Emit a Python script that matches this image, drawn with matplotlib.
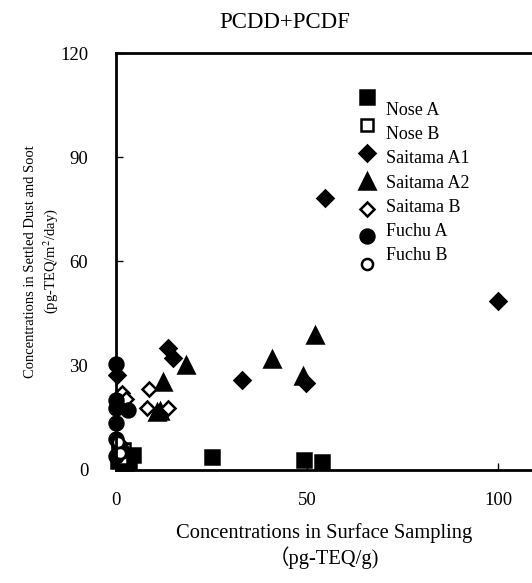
import matplotlib
matplotlib.use("Agg")
import matplotlib.pyplot as plt

plt.rcParams['font.family'] = ['Liberation Serif', 'Noto Sans CJK JP', 'DejaVu Sans']
plt.rcParams['mathtext.fontset'] = 'stix'

# surface sampling (pg-TEQ/g) vs settled dust and soot (pg-TEQ/m2/day)
nose_a_x = [0.5, 1.5, 2.5, 4.4, 3.5, 25.0, 49.1, 54.0]
nose_a_y = [2.5, 3.2, 2.0, 4.2, 2.5, 3.7, 2.9, 2.4]
nose_b_x = [0.5, 1.2, 2.0]
nose_b_y = [5.0, 3.5, 6.0]
saitama_a1_x = [0.3, 13.5, 14.9, 33.0, 49.8, 54.7, 100.0]
saitama_a1_y = [27.3, 35.1, 32.2, 25.9, 24.9, 78.3, 48.7]
saitama_a2_x = [10.8, 11.6, 12.3, 18.4, 40.9, 48.8, 52.0]
saitama_a2_y = [16.8, 17.0, 25.4, 30.2, 31.9, 26.9, 38.8]
saitama_b_x = [1.5, 2.5, 8.6, 8.0, 13.6, 1.0]
saitama_b_y = [22.0, 20.5, 23.3, 17.8, 17.8, 7.5]
fuchu_a_x = [0, 0, 0, 3.1, 0, 0, 0.8, 0, 1.5]
fuchu_a_y = [30.5, 20.0, 17.8, 17.3, 13.5, 9.0, 7.0, 4.0, 5.5]
fuchu_b_x = [0.5, 1.0]
fuchu_b_y = [8.0, 5.0]

series = [
    ("Nose A", nose_a_x, nose_a_y, "s", True, 10),
    ("Nose B", nose_b_x, nose_b_y, "s", False, 9),
    ("Saitama A1", saitama_a1_x, saitama_a1_y, "D", True, 8),
    ("Saitama A2", saitama_a2_x, saitama_a2_y, "^", True, 11),
    ("Saitama B", saitama_b_x, saitama_b_y, "D", False, 7),
    ("Fuchu A", fuchu_a_x, fuchu_a_y, "o", True, 10),
    ("Fuchu B", fuchu_b_x, fuchu_b_y, "o", False, 8),
]

fig = plt.figure(figsize=(5.32, 5.83), dpi=100)
ax = fig.add_axes([0.218, 0.194, 0.782, 0.715])

for name, xs, ys, mk, filled, ms in series:
    ax.plot(xs, ys, linestyle='none', marker=mk, markersize=ms,
            markerfacecolor='black' if filled else 'white',
            markeredgecolor='black', markeredgewidth=1.8, clip_on=False)

# hand-made legend (markers sit slightly offset from the labels, as in the original)
for i, (name, xs, ys, mk, filled, ms) in enumerate(series):
    ax.plot(0.603, 0.894 - i * 0.0668, transform=ax.transAxes, marker=mk,
            markersize=ms, markerfacecolor='black' if filled else 'white',
            markeredgecolor='black', markeredgewidth=1.8, clip_on=False)
    ax.text(0.648, 0.863 - i * 0.0583, name, transform=ax.transAxes,
            fontsize=13, va='center', ha='left')

ax.set_xlim(0, 108.8)
ax.set_ylim(0, 120)
ax.set_xticks([0, 50, 100])
ax.set_yticks([0, 30, 60, 90, 120])
ax.tick_params(direction='in', length=5, width=1, labelsize=13.5)
ax.tick_params(axis='x', pad=16)
ax.tick_params(axis='y', pad=20)
ax.spines['right'].set_visible(False)
for s in ['left', 'bottom', 'top']:
    ax.spines[s].set_linewidth(2)

fig.text(0.536, 0.962, 'PCDD+PCDF', fontsize=16.5, ha='center', va='center')
ax.set_xlabel('Concentrations in Surface Sampling\n（pg-TEQ/g)', fontsize=14.8,
              labelpad=10, linespacing=1.2)
ax.set_ylabel('Concentrations in Settled Dust and Soot\n(pg-TEQ/m$^2$/day)',
              fontsize=10.5, labelpad=0, linespacing=1.3)

plt.savefig('out.png', dpi=100)
